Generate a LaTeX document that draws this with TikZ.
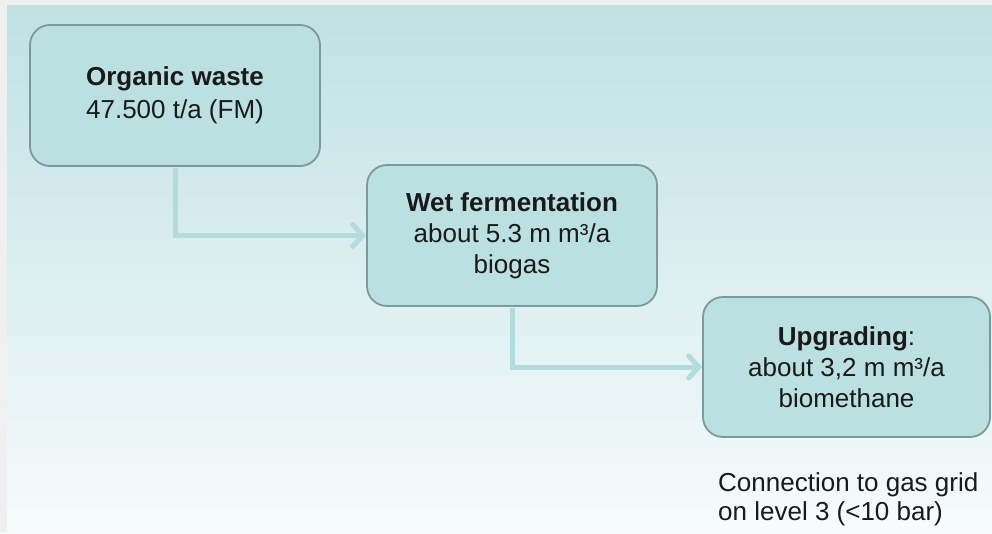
\documentclass[tikz,border=0pt]{standalone}
\usepackage{fontspec}
\setmainfont{Liberation Sans}
\usetikzlibrary{arrows.meta}
\definecolor{margingray}{HTML}{F0F0F0}
\definecolor{bgtop}{HTML}{BFE1E4}
\definecolor{bgbottom}{HTML}{F7FBFC}
\definecolor{boxfill}{HTML}{BBE0E2}
\definecolor{boxline}{HTML}{7D999B}
\definecolor{flow}{HTML}{B0DCDD}
\definecolor{ink}{HTML}{1A1A1A}
\begin{document}
\begin{tikzpicture}[x=1pt,y=-1pt,
  stage/.style={draw=boxline, line width=1.8pt, fill=boxfill, rounded corners=20pt,
    minimum width=290pt, minimum height=141pt, align=center, inner sep=0pt,
    text=ink, font=\fontsize{26}{31}\selectfont},
  flowline/.style={draw=flow, line width=5pt,
    -{Straight Barb[length=10pt,width=22pt,line cap=round]}},
  note/.style={align=left, inner sep=0pt, text=ink, font=\fontsize{26}{29}\selectfont}]
  \useasboundingbox (0,0) rectangle (992,533);
  % page margin and gradient backdrop
  \fill[margingray] (0,0) rectangle (992,533);
  \shade[top color=bgtop, bottom color=bgbottom] (7,5) rectangle (992,533);

  % process stages
  \node[stage, font=\fontsize{26}{33}\selectfont] (waste) at (175,95.5)
    {\textbf{Organic waste}\\47.500 t/a (FM)};
  \node[stage] (wet) at (512,235.5)
    {\textbf{Wet fermentation}\\about 5.3 m m³/a\\biogas};
  \node[stage, minimum width=287pt, minimum height=140pt] (upg) at (846.5,367)
    {\textbf{Upgrading}:\\about 3,2 m m³/a\\biomethane};
  \node[note, anchor=north west] (grid) at (718,472)
    {Connection to gas grid\\on level 3 (<10 bar)};

  % flow connectors
  \draw[flowline, shorten <=0.9pt] (waste.south) |- (wet.west);
  \draw[flowline, shorten <=0.9pt] (wet.south) |- (upg.west);
\end{tikzpicture}
\end{document}
